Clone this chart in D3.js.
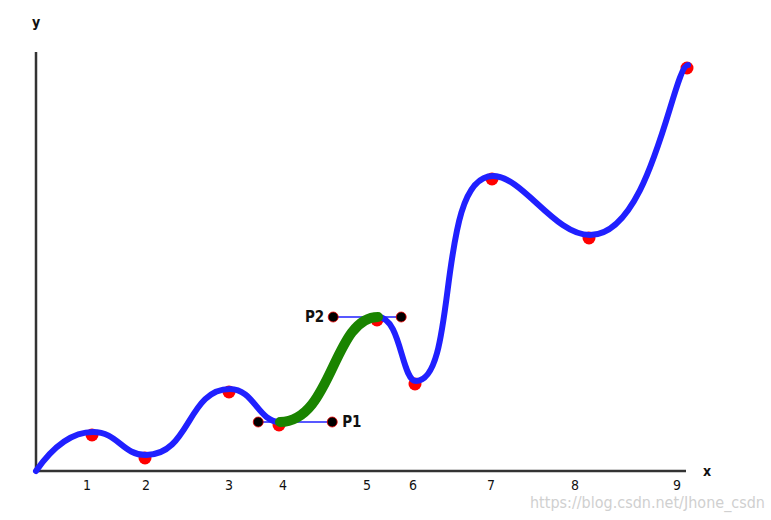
<!DOCTYPE html>
<html>
<head>
<meta charset="utf-8">
<script src="https://cdn.jsdelivr.net/npm/d3@7"></script>
<style>
  html, body { margin: 0; padding: 0; background: #fff; }
  svg { display: block; }
  text { font-family: "DejaVu Sans Condensed", "DejaVu Sans", sans-serif; }
</style>
</head>
<body>
<svg id="chart" width="771" height="520"></svg>
<script>
// ---- data (chart units: x from the origin to the right, y upward) ----
const pointX = [0, 57, 110, 194, 244, 342, 380, 457, 554, 652];
const pointY = [0, 39, 16, 82, 49, 154, 90, 295, 236, 406];
const tickPos = [51, 110, 193, 247, 331, 377, 455, 539, 641];
const tickLabels = ["1", "2", "3", "4", "5", "6", "7", "8", "9"];
const highlightSegment = [4, 5];          // segment drawn in green
const controlLabels = ["P1", "P2"];
const tension = 0.5;
const endHandle = 0.15;
const xMax = 650, yMax = 419;

const svg = d3.select("#chart");
const x = d3.scaleLinear().domain([0, xMax]).range([36, 686]);
const y = d3.scaleLinear().domain([0, yMax]).range([471, 52]);

const pts = pointX.map((v, i) => [x(v), y(pointY[i])]);
const n = pts.length;

// horizontal handles (smooth-curve algorithm, projected to horizontal)
const left = new Array(n), right = new Array(n);
for (let i = 1; i < n - 1; i++) {
  const p0 = pts[i - 1], p1 = pts[i], p2 = pts[i + 1];
  const d01 = Math.hypot(p1[0] - p0[0], p1[1] - p0[1]);
  const d12 = Math.hypot(p2[0] - p1[0], p2[1] - p1[1]);
  const fa = tension * d01 / (d01 + d12), fb = tension * d12 / (d01 + d12);
  const span = p2[0] - p0[0];
  left[i] = [p1[0] - fa * span, p1[1]];
  right[i] = [p1[0] + fb * span, p1[1]];
}
left[n - 1] = [pts[n - 1][0] - endHandle * (pts[n - 1][0] - pts[n - 2][0]), pts[n - 1][1]];

function segment(path, i) {
  const p = pts[i + 1];
  if (i === 0) {
    path.quadraticCurveTo(left[1][0], left[1][1], p[0], p[1]);
  } else {
    path.bezierCurveTo(right[i][0], right[i][1], left[i + 1][0], left[i + 1][1], p[0], p[1]);
  }
}

// axes
const axisG = svg.append("g");
axisG.append("line").attr("x1", x(0)).attr("y1", y(0)).attr("x2", x(0)).attr("y2", y(yMax))
  .attr("stroke", "#333").attr("stroke-width", 2.5);
axisG.append("line").attr("x1", x(0)).attr("y1", y(0)).attr("x2", x(xMax)).attr("y2", y(0))
  .attr("stroke", "#333").attr("stroke-width", 2.5);
axisG.append("text").attr("x", x(xMax) + 21).attr("y", y(0) + 5).attr("text-anchor", "middle")
  .attr("font-size", 14).attr("font-weight", "bold").attr("fill", "#111").text("x");
axisG.append("text").attr("x", x(0)).attr("y", 27).attr("text-anchor", "middle")
  .attr("font-size", 14).attr("font-weight", "bold").attr("fill", "#111").text("y");

// tick labels
svg.append("g").selectAll("text").data(tickPos).join("text")
  .attr("x", d => x(d)).attr("y", 490).attr("text-anchor", "middle")
  .attr("font-size", 14).attr("fill", "#111")
  .text((d, i) => tickLabels[i]);

// red points (drawn slightly below the curve, as in the original)
svg.append("g").selectAll("circle").data(pts.slice(1)).join("circle")
  .attr("cx", d => d[0] - 1).attr("cy", d => d[1] + 3).attr("r", 6.5).attr("fill", "red");

// blue curve
const full = d3.path();
full.moveTo(pts[0][0], pts[0][1]);
for (let i = 0; i < n - 1; i++) segment(full, i);
svg.append("path").attr("d", full.toString()).attr("fill", "none")
  .attr("stroke", "#2020ff").attr("stroke-width", 6).attr("stroke-linecap", "round");

// tangent lines at the highlighted segment ends
const [a, b] = highlightSegment;
const tanG = svg.append("g");
[a, b].forEach(i => {
  tanG.append("line").attr("x1", left[i][0]).attr("y1", left[i][1])
    .attr("x2", right[i][0]).attr("y2", right[i][1])
    .attr("stroke", "#2020ff").attr("stroke-width", 1.5);
});

// green segment
const g = d3.path();
g.moveTo(pts[a][0], pts[a][1]);
segment(g, a);
svg.append("path").attr("d", g.toString()).attr("fill", "none")
  .attr("stroke", "#1a8400").attr("stroke-width", 10).attr("stroke-linecap", "round");

// control point dots
const handles = [left[a], right[a], left[b], right[b]];
svg.append("g").selectAll("circle").data(handles).join("circle")
  .attr("cx", d => d[0]).attr("cy", d => d[1]).attr("r", 5)
  .attr("fill", "#000").attr("stroke", "#e00").attr("stroke-width", 0.8);

// P1 / P2 labels
svg.append("text").attr("x", right[a][0] + 10).attr("y", right[a][1] + 5)
  .attr("font-size", 15).attr("font-weight", "bold").attr("fill", "#111").text(controlLabels[0]);
svg.append("text").attr("x", left[b][0] - 9).attr("y", left[b][1] + 5).attr("text-anchor", "end")
  .attr("font-size", 15).attr("font-weight", "bold").attr("fill", "#111").text(controlLabels[1]);

// watermark
svg.append("text").attr("x", 530).attr("y", 508).attr("textLength", 235)
  .attr("lengthAdjust", "spacingAndGlyphs")
  .attr("font-family", "Liberation Sans, Arial, sans-serif")
  .attr("font-size", 15).attr("fill", "#d0d0d0").text("https://blog.csdn.net/Jhone_csdn");
</script>
</body>
</html>
